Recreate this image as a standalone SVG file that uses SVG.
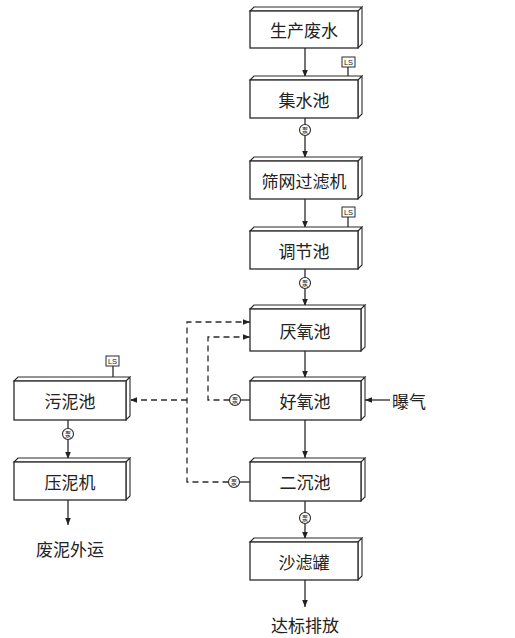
<svg xmlns="http://www.w3.org/2000/svg" width="515" height="638" viewBox="0 0 515 638">
<style>
.box{fill:#fff;stroke:#2a2a2a;stroke-width:1.3}
.side{fill:#fff;stroke:#2a2a2a;stroke-width:1.1}
.lbl{font-family:"Noto Sans CJK SC","Noto Sans",sans-serif;font-size:17px;fill:#222;text-anchor:middle;dominant-baseline:central}
.ln{fill:none;stroke:#2a2a2a;stroke-width:1.3}
.dash{fill:none;stroke:#2a2a2a;stroke-width:1.3;stroke-dasharray:6 4}
.pump{fill:#fff;stroke:#2a2a2a;stroke-width:1.1}
.pt{font-family:"Noto Sans CJK SC",sans-serif;font-size:6.5px;fill:#222;text-anchor:middle;dominant-baseline:central}
.ls{fill:#fff;stroke:#2a2a2a;stroke-width:1}
.lst{font-family:"Liberation Sans",sans-serif;font-size:7.5px;fill:#222;text-anchor:middle;dominant-baseline:central}
</style>
<defs>
<marker id="arr" viewBox="0 0 10 10" refX="10" refY="5" markerWidth="7" markerHeight="7" markerUnits="userSpaceOnUse" orient="auto">
<path d="M0,1 L10,5 L0,9 Z" fill="#222"/>
</marker>
<g id="pumpSym">
<circle class="pump" r="5.5"/>
<text class="pt" x="0" y="0">泵</text>
</g>
</defs>

<g id="connectors">
<path class="ln" d="M305,48 V77" marker-end="url(#arr)"/>
<path class="ln" d="M305,118 V124.5 M305,135.5 V158" marker-end="url(#arr)"/>
<path class="ln" d="M305,199 V228" marker-end="url(#arr)"/>
<path class="ln" d="M305,269 V277.5 M305,288.5 V306" marker-end="url(#arr)"/>
<path class="ln" d="M305,351 V378" marker-end="url(#arr)"/>
<path class="ln" d="M305,420 V458" marker-end="url(#arr)"/>
<path class="ln" d="M305,501 V512.5 M305,523.5 V539" marker-end="url(#arr)"/>
<path class="ln" d="M305,580 V607" marker-end="url(#arr)"/>
<path class="ln" d="M390,400 H365" marker-end="url(#arr)"/>
<path class="ln" d="M250,400 H240.5"/>
<path class="ln" d="M250,482 H239.5"/>
<path class="dash" d="M229.5,400 H208 V337 H250" marker-end="url(#arr)"/>
<path class="dash" d="M228.5,482 H187 V322 H250" marker-end="url(#arr)"/>
<path class="dash" d="M187,400 H130" marker-end="url(#arr)"/>
<path class="ln" d="M68,420 V428.5 M68,439.5 V459" marker-end="url(#arr)"/>
<path class="ln" d="M68,500 V525" marker-end="url(#arr)"/>
<path class="ln" d="M348,67 V77"/>
<path class="ln" d="M348,217 V228"/>
<path class="ln" d="M113,366 V378"/>
<use href="#pumpSym" x="305" y="130"/>
<use href="#pumpSym" x="305" y="283"/>
<use href="#pumpSym" x="305" y="518"/>
<use href="#pumpSym" x="235" y="400"/>
<use href="#pumpSym" x="234" y="482"/>
<use href="#pumpSym" x="68" y="434"/>
</g>

<g id="ls1"><rect class="ls" x="342" y="57" width="13" height="10"/><text class="lst" x="348.5" y="62">LS</text></g>
<g id="ls2"><rect class="ls" x="342" y="207" width="13" height="10"/><text class="lst" x="348.5" y="212">LS</text></g>
<g id="ls3"><rect class="ls" x="106" y="356" width="13" height="10"/><text class="lst" x="112.5" y="361">LS</text></g>

<g id="n1">
<path class="side" d="M250,11 L254,7 H362 L358,11 Z M358,11 L362,7 V44 L358,48 Z"/>
<rect class="box" x="250" y="11" width="108" height="37"/>
<text class="lbl" x="304" y="29.5">生产废水</text>
</g>
<g id="n2">
<path class="side" d="M250,80 L254,76 H362 L358,80 Z M358,80 L362,76 V114 L358,118 Z"/>
<rect class="box" x="250" y="80" width="108" height="38"/>
<text class="lbl" x="304" y="99">集水池</text>
</g>
<g id="n3">
<path class="side" d="M250,161 L254,157 H362 L358,161 Z M358,161 L362,157 V195 L358,199 Z"/>
<rect class="box" x="250" y="161" width="108" height="38"/>
<text class="lbl" x="304" y="180">筛网过滤机</text>
</g>
<g id="n4">
<path class="side" d="M250,231 L254,227 H362 L358,231 Z M358,231 L362,227 V265 L358,269 Z"/>
<rect class="box" x="250" y="231" width="108" height="38"/>
<text class="lbl" x="304" y="250">调节池</text>
</g>
<g id="n5">
<path class="side" d="M250,309 L254,305 H365 L361,309 Z M361,309 L365,305 V347 L361,351 Z"/>
<rect class="box" x="250" y="309" width="111" height="42"/>
<text class="lbl" x="305" y="330">厌氧池</text>
</g>
<g id="n6">
<path class="side" d="M250,381 L254,377 H365 L361,381 Z M361,381 L365,377 V416 L361,420 Z"/>
<rect class="box" x="250" y="381" width="111" height="39"/>
<text class="lbl" x="305" y="400.5">好氧池</text>
</g>
<g id="n7">
<path class="side" d="M250,462 L254,458 H365 L361,462 Z M361,462 L365,458 V497 L361,501 Z"/>
<rect class="box" x="250" y="462" width="111" height="39"/>
<text class="lbl" x="305" y="481.5">二沉池</text>
</g>
<g id="n8">
<path class="side" d="M250,542 L254,538 H362 L358,542 Z M358,542 L362,538 V576 L358,580 Z"/>
<rect class="box" x="250" y="542" width="108" height="38"/>
<text class="lbl" x="304" y="561">沙滤罐</text>
</g>
<g id="n9">
<path class="side" d="M14,381 L18,377 H130 L126,381 Z M126,381 L130,377 V416 L126,420 Z"/>
<rect class="box" x="14" y="381" width="112" height="39"/>
<text class="lbl" x="70" y="400.5">污泥池</text>
</g>
<g id="n10">
<path class="side" d="M14,462 L18,458 H130 L126,462 Z M126,462 L130,458 V496 L126,500 Z"/>
<rect class="box" x="14" y="462" width="112" height="38"/>
<text class="lbl" x="70" y="481">压泥机</text>
</g>

<g id="t-air"><text class="lbl" x="409" y="400">曝气</text></g>
<g id="t-out"><text class="lbl" x="305" y="624">达标排放</text></g>
<g id="t-sludge"><text class="lbl" x="70" y="548">废泥外运</text></g>
</svg>
